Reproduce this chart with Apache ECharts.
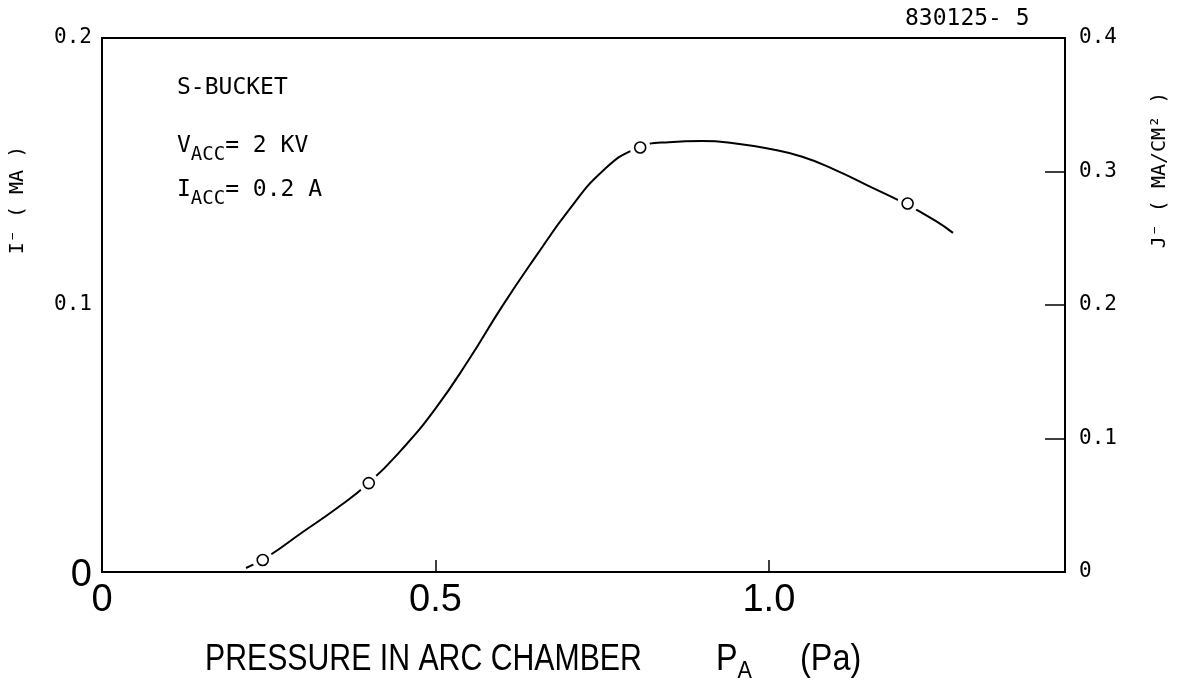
<!DOCTYPE html>
<html><head><meta charset="utf-8">
<script src="https://cdn.jsdelivr.net/npm/echarts@6/dist/echarts.min.js"></script>
<style>html,body{margin:0;padding:0;background:#fff}#c{width:1182px;height:687px}</style>
</head><body><div id="c"></div>
<script>
// Smooth curve (x: pressure Pa, y: I- mA)
const curveX = [0.216, 0.25, 0.30, 0.35, 0.40, 0.45, 0.50, 0.55, 0.60, 0.65, 0.70, 0.75, 0.80, 0.85, 0.90, 0.95, 1.00, 1.05, 1.10, 1.15, 1.20, 1.25, 1.276];
const curveY = [0.0015, 0.006, 0.0148, 0.0235, 0.0333, 0.046, 0.0612, 0.0795, 0.0995, 0.118, 0.1355, 0.150, 0.1585, 0.1610, 0.1614, 0.1605, 0.1585, 0.1555, 0.1505, 0.1445, 0.1385, 0.1315, 0.127];
// Measured points (open circles)
const markX = [0.241, 0.400, 0.807, 1.208];
const markY = [0.0045, 0.0333, 0.159, 0.138];
const xTickLabels = {'0': '0', '0.5': '0.5', '1': '1.0'};
const leftTickLabels = {'0': '0', '0.1': '0.1', '0.2': '0.2'};
const rightTickLabels = {'0': '0', '0.1': '0.1', '0.2': '0.2', '0.3': '0.3', '0.4': '0.4'};

const MONO = '"DejaVu Sans Mono", monospace';
const SANS = '"Liberation Sans", sans-serif';

const chart = echarts.init(document.getElementById('c'), null, {renderer: 'canvas'});
const pair = (xs, ys) => xs.map((x, i) => [x, ys[i]]);
const key = v => String(Math.round(v * 1000) / 1000);

chart.setOption({
  animation: false,
  backgroundColor: '#fff',
  grid: {left: 102, right: 117, top: 38, bottom: 115, show: true, borderColor: '#000', borderWidth: 2, backgroundColor: 'transparent'},
  xAxis: {
    type: 'value', min: 0, max: 1.444, interval: 0.5,
    axisLine: {show: true, lineStyle: {color: '#000', width: 2}},
    axisTick: {show: true, inside: true, length: 12, lineStyle: {color: '#000', width: 1.5}},
    splitLine: {show: false},
    axisLabel: {
      margin: 10, color: '#000', fontFamily: SANS, fontSize: 38,
      formatter: v => xTickLabels[key(v)] || ''
    }
  },
  yAxis: [{
    type: 'value', min: 0, max: 0.2, interval: 0.1, position: 'left',
    axisLine: {show: true, lineStyle: {color: '#000', width: 2}},
    axisTick: {show: false},
    splitLine: {show: false},
    axisLabel: {
      margin: 10, color: '#000', fontFamily: MONO, fontSize: 21,
      formatter: v => { const k = key(v); if (k === '0') return '{big|0}'; return leftTickLabels[k] || ''; },
      rich: {big: {fontFamily: SANS, fontSize: 38, color: '#000', padding: [8, 0, 0, 0]}}
    }
  }, {
    type: 'value', min: 0, max: 0.4, interval: 0.1, position: 'right',
    axisLine: {show: true, lineStyle: {color: '#000', width: 2}},
    axisTick: {show: true, inside: true, length: 20, lineStyle: {color: '#000', width: 1.5}},
    splitLine: {show: false},
    axisLabel: {
      margin: 14, color: '#000', fontFamily: MONO, fontSize: 21,
      formatter: v => rightTickLabels[key(v)] || ''
    }
  }],
  series: [{
    type: 'line', data: pair(curveX, curveY), smooth: 0.5, showSymbol: false,
    lineStyle: {color: '#000', width: 2}, z: 2, silent: true
  }, {
    type: 'scatter', data: pair(markX, markY), symbol: 'circle', symbolSize: 21,
    itemStyle: {color: '#fff', borderWidth: 0, opacity: 1}, z: 3, silent: true
  }, {
    type: 'scatter', data: pair(markX, markY), symbol: 'circle', symbolSize: 11,
    itemStyle: {color: '#fff', borderColor: '#000', borderWidth: 1.6, opacity: 1}, z: 4, silent: true
  }],
  graphic: [
    {type: 'text', left: 905, top: 8, style: {text: '830125- 5', font: '23px ' + MONO, fill: '#000'}},
    {type: 'text', x: 177, y: 88, style: {text: 'S-BUCKET', font: '23px ' + MONO, fill: '#000', verticalAlign: 'middle'}},
    {type: 'text', x: 177, y: 146, style: {
      text: '{m|V}{s|ACC}{m|= 2 KV}', verticalAlign: 'middle', fill: '#000',
      rich: {m: {fontFamily: MONO, fontSize: 23, fill: '#000'}, s: {fontFamily: MONO, fontSize: 19, fill: '#000', padding: [18, 0, 0, 0]}}
    }},
    {type: 'text', x: 177, y: 190, style: {
      text: '{m|I}{s|ACC}{m|= 0.2 A}', verticalAlign: 'middle', fill: '#000',
      rich: {m: {fontFamily: MONO, fontSize: 23, fill: '#000'}, s: {fontFamily: MONO, fontSize: 19, fill: '#000', padding: [18, 0, 0, 0]}}
    }},
    {type: 'text', x: 18, y: 200, rotation: Math.PI / 2, style: {
      text: 'I\u207B ( MA )', font: '20px ' + MONO, fill: '#000', align: 'center', verticalAlign: 'middle'}},
    {type: 'text', x: 1160, y: 170, rotation: Math.PI / 2, style: {
      text: 'J\u207B ( MA/CM\u00B2 )', font: '20px ' + MONO, fill: '#000', align: 'center', verticalAlign: 'middle'}},
    {type: 'text', x: 205, y: 660, scaleX: 0.84, style: {text: 'PRESSURE IN ARC CHAMBER', font: '36px ' + SANS, fill: '#000', verticalAlign: 'middle'}},
    {type: 'text', x: 716, y: 660, scaleX: 0.9, style: {
      text: '{m|P}{s|A}', verticalAlign: 'middle', fill: '#000',
      rich: {m: {fontFamily: SANS, fontSize: 36, fill: '#000'}, s: {fontFamily: SANS, fontSize: 24, fill: '#000', padding: [22, 0, 0, 0]}}
    }},
    {type: 'text', x: 800, y: 660, scaleX: 0.9, style: {text: '(Pa)', font: '36px ' + SANS, fill: '#000', verticalAlign: 'middle'}}
  ]
});
</script></body></html>
